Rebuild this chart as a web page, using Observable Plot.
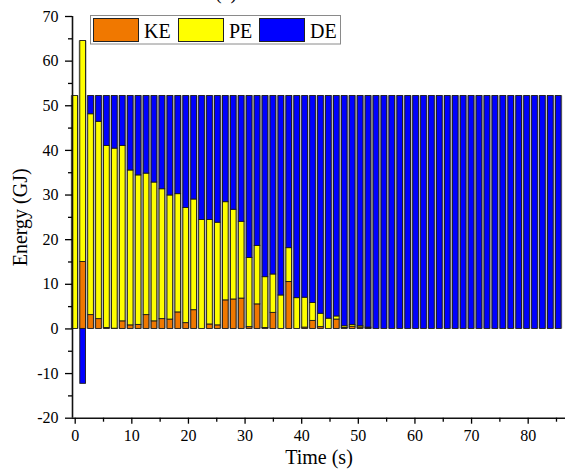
<!DOCTYPE html>
<html><head><meta charset="utf-8">
<script src="https://cdn.jsdelivr.net/npm/d3@7"></script>
<script src="https://cdn.jsdelivr.net/npm/@observablehq/plot@0.6"></script>
<style>body{margin:0;background:#fff} #chart{width:565px;height:473px;overflow:hidden}
#chart svg text{font-family:'Liberation Serif','Times New Roman',serif !important}</style>
</head><body><div id="chart"></div>
<script>
const time = [0,1.4,2.8,4.2,5.6,7,8.4,9.8,11.2,12.6,14,15.4,16.8,18.2,19.6,21,22.4,23.8,25.2,26.6,28,29.4,30.8,32.2,33.6,35,36.4,37.8,39.2,40.6,42,43.4,44.8,46.2,47.6,49,50.4,51.8,53.2,54.6,56,57.4,58.8,60.2,61.6,63,64.4,65.8,67.2,68.6,70,71.4,72.8,74.2,75.6,77,78.4,79.8,81.2,82.6,84,85.4];
const ke = [0,15.0,3.1,2.2,0.2,0.05,1.7,0.8,0.9,3.1,1.7,2.2,2.1,3.7,1.3,4.2,0,1.0,0.8,6.4,6.6,6.8,0.4,5.5,0.2,3.6,0,10.5,0,0.3,1.8,0.4,0,2.1,0.2,0.5,0.3,0.1,
  0,0,0,0,0,0,0,0,0,0,0,0,0,0,0,0,0,0,0,0,0,0,0,0];
const pe = [52.2,49.5,45.0,44.2,40.8,40.35,39.3,34.7,33.5,31.7,31.1,29.1,27.8,26.5,25.8,24.8,24.4,23.4,23.0,22.0,20.1,17.2,15.5,13.1,11.4,8.6,7.5,7.6,6.9,6.7,4.0,3.0,2.3,0.7,0.4,0.4,0.3,0.2,
  0,0,0,0,0,0,0,0,0,0,0,0,0,0,0,0,0,0,0,0,0,0,0,0];
const de = [0,-12.3,4.1,5.8,11.2,11.8,11.2,16.7,17.8,17.4,19.4,20.9,22.3,22.0,25.1,23.2,27.8,27.8,28.4,23.8,25.5,28.2,36.3,33.6,40.6,40.0,44.7,34.1,45.3,45.2,46.4,48.8,49.9,49.4,51.6,51.3,51.6,51.9,
  52.2,52.2,52.2,52.2,52.2,52.2,52.2,52.2,52.2,52.2,52.2,52.2,52.2,52.2,52.2,52.2,52.2,52.2,52.2,52.2,52.2,52.2,52.2,52.2];
const seriesNames = ["KE","PE","DE"];
const seriesColors = ["#F07800","#FFFF00","#0000FF"];
const xTicks = [0,10,20,30,40,50,60,70,80];
const xMinor = [5,15,25,35,45,55,65,75,85];
const yTicks = [-20,-10,0,10,20,30,40,50,60,70];
const yMinor = [-15,-5,5,15,25,35,45,55,65];
const xTitle = "Time (s)";
const yTitle = "Energy (GJ)";
const panelTag = "(a)";

const xDomain = [-0.477, 86.59];
const yDomain = [-20, 70];
const halfBar = 0.5, halfStep = 0.7;

const values = [ke, pe, de];
const rows = [];
time.forEach((t, i) => seriesNames.forEach((s, k) => {
  if (values[k][i] !== 0) rows.push({t, series: s, value: values[k][i]});
}));
const bands = time.map((t, i) => ({t, lo: 0, hi: ke[i] + pe[i] + Math.max(de[i], 0)}));

const font = "'Liberation Serif', 'Times New Roman', serif";
const plot = Plot.plot({
  width: 565, height: 473,
  marginLeft: 72, marginRight: 0, marginTop: 16, marginBottom: 55.3,
  style: {fontFamily: font, fontSize: "16px", background: "white", color: "black"},
  x: {domain: xDomain},
  y: {domain: yDomain},
  color: {domain: seriesNames, range: seriesColors},
  marks: [
    Plot.rect(bands, {x1: d => d.t - halfStep, x2: d => d.t + halfStep, y1: "lo", y2: "hi", fill: "#a8a8a8"}),
    Plot.rectY(rows, {x1: d => d.t - halfBar, x2: d => d.t + halfBar, y: "value", z: "series", order: seriesNames,
      fill: "series", stroke: "#1a1a1a", strokeWidth: 0.9}),
    Plot.ruleX([xDomain[0]], {stroke: "#111", strokeWidth: 1.6}),
    Plot.ruleY([yDomain[0]], {stroke: "#111", strokeWidth: 1.6}),
    Plot.axisY(yTicks, {tickSize: 7, tickPadding: 7, fontSize: 16, fontFamily: font, label: null, tickFormat: d => String(d), strokeWidth: 1.3}),
    Plot.axisY(yMinor, {tickSize: 4, text: null, label: null, strokeWidth: 1.3}),
    Plot.axisX(xTicks, {tickSize: 6, tickPadding: 5, fontSize: 16, fontFamily: font, label: null, tickFormat: d => String(d), strokeWidth: 1.3}),
    Plot.axisX(xMinor, {tickSize: 4, text: null, label: null, strokeWidth: 1.3}),
    Plot.text([xTitle], {frameAnchor: "bottom", lineAnchor: "middle", textAnchor: "middle", dy: 39, fontSize: 20, fontFamily: font, text: d => d}),
    Plot.text([yTitle], {frameAnchor: "left", lineAnchor: "middle", textAnchor: "middle", dx: -52, rotate: -90, fontSize: 20, fontFamily: font, text: d => d})
  ]
});
document.getElementById("chart").appendChild(plot);

// legend (inside the plot, top)
const svg = d3.select(plot);
svg.selectAll("text").style("font-family", font);
const lg = svg.append("g").attr("font-family", font).attr("font-size", 20).attr("text-anchor", "start").attr("fill", "black");
lg.append("rect").attr("x", 90.5).attr("y", 15.5).attr("width", 250).attr("height", 28.5)
  .attr("fill", "white").attr("stroke", "#8a8a8a").attr("stroke-width", 1);
const items = [{x: 93.5, tx: 144}, {x: 178.5, tx: 229}, {x: 259.5, tx: 310}];
seriesNames.forEach((s, k) => {
  lg.append("rect").attr("x", items[k].x).attr("y", 18.5).attr("width", 45).attr("height", 23)
    .attr("fill", seriesColors[k]).attr("stroke", "#222").attr("stroke-width", 1);
  lg.append("text").attr("x", items[k].tx).attr("y", 37.5).attr("text-anchor", "start").text(s);
});
svg.append("text").attr("x", 226).attr("y", -1.5).attr("text-anchor", "middle")
  .attr("font-family", font).attr("font-size", 20).text(panelTag);
</script>
</body></html>
